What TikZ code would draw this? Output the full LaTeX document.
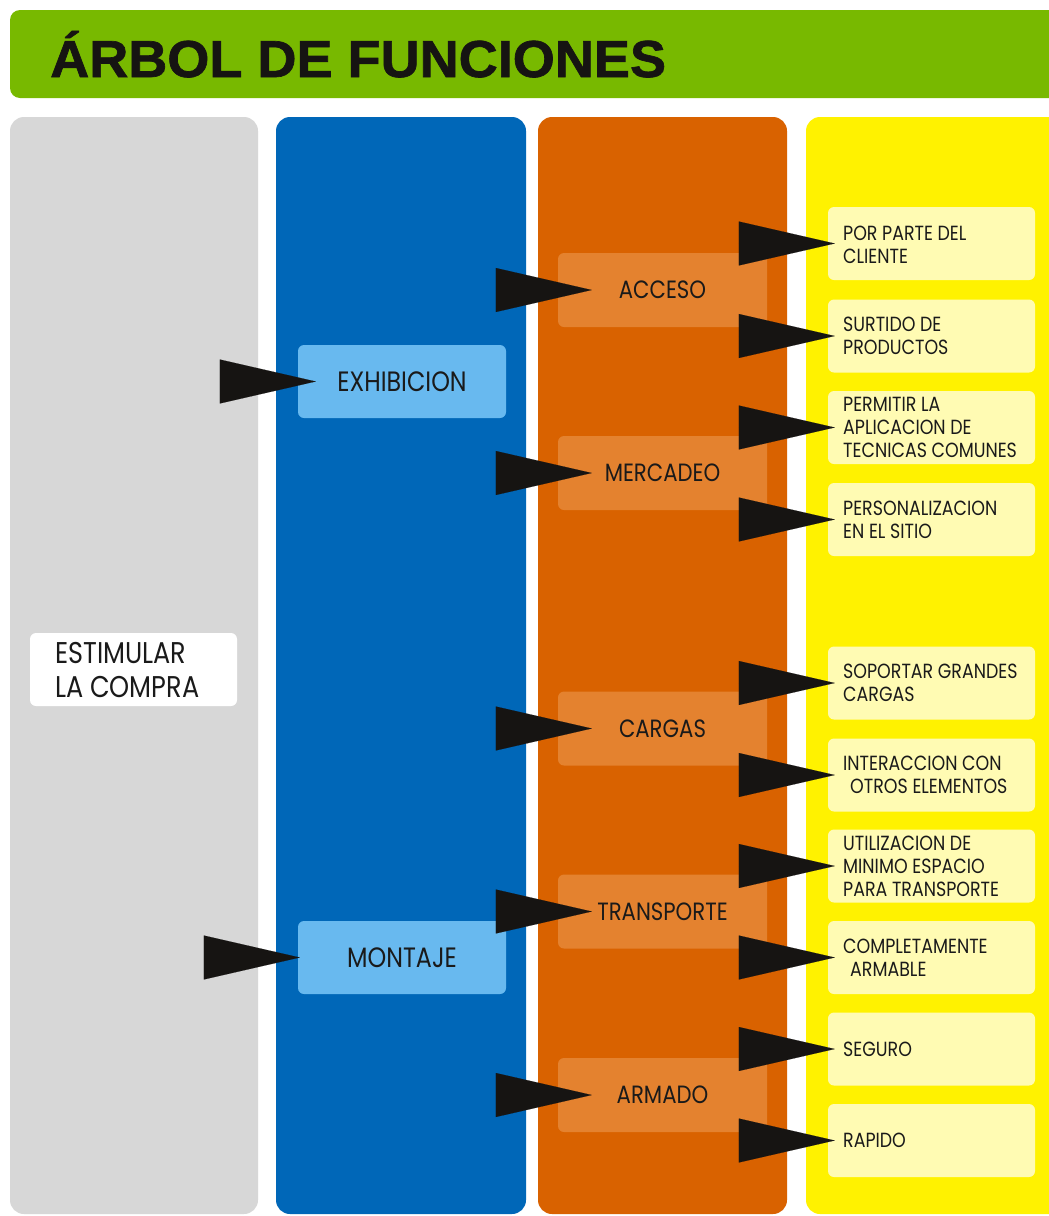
\documentclass[tikz,border=0pt]{standalone}
\usepackage{fontspec}
\usetikzlibrary{arrows.meta}
\newfontfamily\bodyfont{Poppins}[FakeStretch=0.85]
\newfontfamily\headfont{Liberation Sans}[FakeStretch=1.04,FakeBold=1.3]

\definecolor{titlegreen}{RGB}{120,185,0}
\definecolor{colgray}{RGB}{215,215,215}
\definecolor{colblue}{RGB}{0,103,184}
\definecolor{colorange}{RGB}{217,98,0}
\definecolor{colyellow}{RGB}{255,242,0}
\definecolor{boxblue}{RGB}{104,185,239}
\definecolor{boxorange}{RGB}{228,130,47}
\definecolor{boxyellow}{RGB}{255,251,179}
\definecolor{inkblack}{RGB}{22,20,18}
\definecolor{textdark}{RGB}{26,26,26}

\begin{document}
\begin{tikzpicture}[x=1pt,y=-1pt,
  column/.style={rounded corners=14pt},
  fbox/.style={rectangle, rounded corners=6pt, inner sep=0pt,
    minimum height=73pt, text=textdark},
  bluebox/.style={fbox, fill=boxblue, minimum width=208pt,
    font=\bodyfont\fontsize{28}{32}\selectfont},
  orangebox/.style={fbox, fill=boxorange, minimum width=209pt, minimum height=74pt,
    font=\bodyfont\fontsize{25}{30}\selectfont},
  yellowbox/.style={fbox, fill=boxyellow, minimum width=207pt},
  ytext/.style={anchor=west, inner sep=0pt, align=left, text=textdark,
    font=\bodyfont\fontsize{20.5}{23}\selectfont},
  wedge/.style={draw=inkblack, line width=0.1pt,
    -{Triangle[length=96pt,width=44pt,fill=inkblack]}},
]
\clip (0,0) rectangle (1049,1216);
\fill[white] (0,0) rectangle (1049,1216);

% title banner
\fill[titlegreen, rounded corners=10pt] (10,10) rectangle (1080,98);
\node[anchor=base west, inner sep=0pt, text=inkblack,
  font=\headfont\bfseries\fontsize{52}{52}\selectfont] (title) at (50,77) {ÁRBOL DE FUNCIONES};

% four columns
\fill[column, colgray]   (10,117)  rectangle (258,1214);
\fill[column, colblue]   (276,117) rectangle (526,1214);
\fill[column, colorange] (538,117) rectangle (787,1214);
\fill[column, colyellow] (806,117) rectangle (1080,1214);

% level 0
\node[fbox, fill=white, minimum width=207pt] (root) at (133.5,669.5) {};
\node[anchor=west, inner sep=0pt, align=left, text=textdark,
  font=\bodyfont\fontsize{30}{34}\selectfont] (roottext) at (55,670) {ESTIMULAR\\LA COMPRA};

% level 1
\node[bluebox] (exh) at (402,381.5) {EXHIBICION};
\node[bluebox] (mon) at (402,957.5) {MONTAJE};

% level 2
\node[orangebox] (acc) at (662.5,290)   {ACCESO};
\node[orangebox] (mer) at (662.5,473)   {MERCADEO};
\node[orangebox] (car) at (662.5,728.5) {CARGAS};
\node[orangebox] (tra) at (662.5,911.5) {TRANSPORTE};
\node[orangebox] (arm) at (662.5,1095)  {ARMADO};

% level 3
\node[yellowbox] (y1)  at (931.5,243.5)  {};
\node[yellowbox] (y2)  at (931.5,336)    {};
\node[yellowbox] (y3)  at (931.5,427.5)  {};
\node[yellowbox] (y4)  at (931.5,519.5)  {};
\node[yellowbox] (y5)  at (931.5,683)    {};
\node[yellowbox] (y6)  at (931.5,775)    {};
\node[yellowbox] (y7)  at (931.5,866)    {};
\node[yellowbox] (y8)  at (931.5,957.5)  {};
\node[yellowbox] (y9)  at (931.5,1049)   {};
\node[yellowbox] (y10) at (931.5,1140.5) {};

\node[ytext] (t1)  at (843,245)  {POR PARTE DEL\\CLIENTE};
\node[ytext] (t2)  at (843,336)  {SURTIDO DE\\PRODUCTOS};
\node[ytext] (t3)  at (843,427.5){PERMITIR LA\\APLICACION DE\\TECNICAS COMUNES};
\node[ytext] (t4)  at (843,519.5){PERSONALIZACION\\EN EL SITIO};
\node[ytext] (t5)  at (843,683)  {SOPORTAR GRANDES\\CARGAS};
\node[ytext] (t6)  at (843,775)  {INTERACCION CON\\\hspace*{7pt}OTROS ELEMENTOS};
\node[ytext] (t7)  at (843,866)  {UTILIZACION DE\\MINIMO ESPACIO\\PARA TRANSPORTE};
\node[ytext] (t8)  at (843,957.5){COMPLETAMENTE\\\hspace*{7pt}ARMABLE};
\node[ytext] (t9)  at (843,1049) {SEGURO};
\node[ytext] (t10) at (843,1140.5){RAPIDO};

% wedge connectors
\coordinate (pexh) at (220,381.5);
\coordinate (pmon) at (204,957.5);
\draw[wedge] (pexh) -- ([xshift=18pt]exh.west);
\draw[wedge] (pmon) -- ([xshift=2pt]mon.west);

\foreach \b in {acc,mer,car,tra,arm}{
  \coordinate (p\b) at ([xshift=-62pt]\b.west);
  \draw[wedge] (p\b) -- ([xshift=34pt]\b.west);
}
\foreach \b in {y1,y2,y3,y4,y5,y6,y7,y8,y9,y10}{
  \coordinate (p\b) at ([xshift=-89pt]\b.west);
  \draw[wedge] (p\b) -- ([xshift=7pt]\b.west);
}
\end{tikzpicture}
\end{document}
